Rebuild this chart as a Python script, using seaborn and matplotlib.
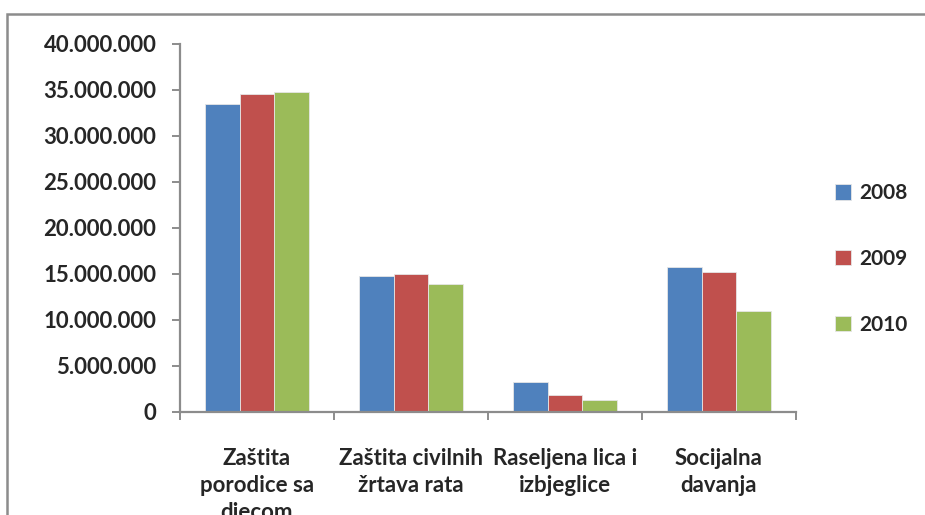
import numpy as np
import pandas as pd
import matplotlib
matplotlib.use("Agg")
import matplotlib.pyplot as plt
import seaborn as sns
from matplotlib.patches import Rectangle

# podaci
kategorije = ["Zaštita\nporodice sa\ndjecom", "Zaštita civilnih\nžrtava rata",
              "Raseljena lica i\nizbjeglice", "Socijalna\ndavanja"]
godine = ["2008", "2009", "2010"]
iznosi_2008 = [33500000, 14800000, 3250000, 15800000]
iznosi_2009 = [34600000, 14950000, 1850000, 15200000]
iznosi_2010 = [34800000, 13900000, 1300000, 11000000]
boje = ["#4F81BD", "#C0504D", "#9BBB59"]

df = pd.DataFrame({
    "kategorija": kategorije * 3,
    "godina": np.repeat(godine, len(kategorije)),
    "iznos": iznosi_2008 + iznosi_2009 + iznosi_2010,
})

sns.set_style("white")
plt.rcParams["font.family"] = ["Lato", "DejaVu Sans"]

fig = plt.figure(figsize=(9.25, 5.15), dpi=100)
ax = fig.add_axes([0.1946, 0.2, 0.8605 - 0.1946, 0.9146 - 0.2])

sns.barplot(data=df, x="kategorija", y="iznos", hue="godina", palette=boje,
            saturation=1, width=0.68, edgecolor="#e6e6e6", linewidth=0.6, ax=ax)

ax.set_ylim(0, 40000000)
ax.set_xlim(-0.5, 3.5)
ax.set_yticks(np.arange(0, 40000001, 5000000))
ax.yaxis.set_major_formatter(plt.FuncFormatter(lambda v, p: f"{int(v):,}".replace(",", ".")))
ax.set_xlabel("")
ax.set_ylabel("")

# osovine
for s in ["top", "right"]:
    ax.spines[s].set_visible(False)
for s in ["left", "bottom"]:
    ax.spines[s].set_color("#8c8c8c")
    ax.spines[s].set_linewidth(1.6)

ax.tick_params(axis="y", which="major", length=6, width=1.4, color="#8c8c8c",
               direction="out", pad=11, labelsize=16, left=True)
ax.set_xticks(np.arange(-0.5, 3.6, 1), minor=True)
ax.tick_params(axis="x", which="minor", length=6, width=1.4, color="#8c8c8c", direction="out", bottom=True)
ax.tick_params(axis="x", which="major", length=0, pad=26, labelsize=16)
for lbl in ax.get_yticklabels() + ax.get_xticklabels():
    lbl.set_fontweight("bold")
for lbl in ax.get_xticklabels():
    lbl.set_linespacing(1.35)
    lbl.set_verticalalignment("top")

leg = ax.legend(loc="center left", bbox_to_anchor=(0.903, 0.497), bbox_transform=fig.transFigure,
                frameon=False, fontsize=15, handlelength=0.75, handleheight=0.75,
                labelspacing=2.2, handletextpad=0.4, borderpad=0, borderaxespad=0)
for t in leg.get_texts():
    t.set_fontweight("bold")

# okvir grafikona
fig.patches.append(Rectangle((0.0076, -0.2), 1.2, 1.173, transform=fig.transFigure,
                             fill=False, edgecolor="#8c8c8c", linewidth=1.8))

fig.savefig("out.png", dpi=100)
